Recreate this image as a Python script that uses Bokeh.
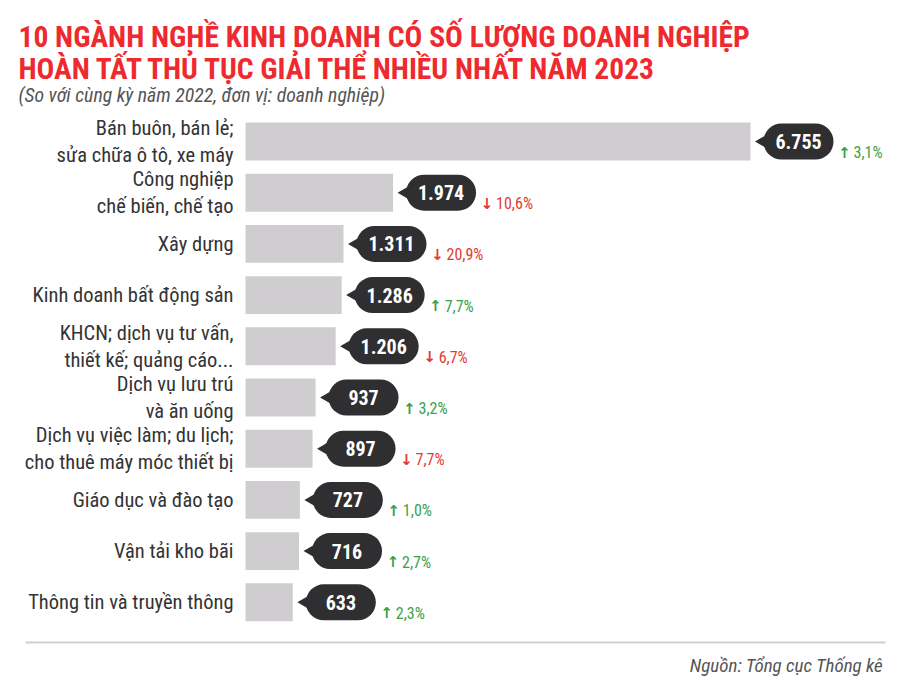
from bokeh.plotting import figure
from bokeh.models import ColumnDataSource, Range1d, Label, BoxAnnotation
from bokeh.core.properties import value
from bokeh.embed import file_html
from bokeh.resources import INLINE
import math

# data
categories = [
    "Bán buôn, bán lẻ;\nsửa chữa ô tô, xe máy",
    "Công nghiệp\nchế biến, chế tạo",
    "Xây dựng",
    "Kinh doanh bất động sản",
    "KHCN; dịch vụ tư vấn,\nthiết kế; quảng cáo...",
    "Dịch vụ lưu trú\nvà ăn uống",
    "Dịch vụ việc làm; du lịch;\ncho thuê máy móc thiết bị",
    "Giáo dục và đào tạo",
    "Vận tải kho bãi",
    "Thông tin và truyền thông",
]
counts = [6755, 1974, 1311, 1286, 1206, 937, 897, 727, 716, 633]
changes = [3.1, -10.6, -20.9, 7.7, -6.7, 3.2, -7.7, 1.0, 2.7, 2.3]

FONT = "Roboto Condensed"
W, H = 900, 678
BAR_LEFT = 245          # px where value 0 sits
PX_PER_UNIT = 505 / 6755
ROW = 51.2
FIRST_ROW = 141

def dx(px):
    return px / PX_PER_UNIT

ypos = list(range(len(categories)))
count_lbl = [f"{c:,}".replace(",", ".") for c in counts]
arrow = ["↑" if c >= 0 else "↓" for c in changes]
chg_lbl = [f"{abs(c):.1f}".replace(".", ",") + "%" for c in changes]
chg_col = ["#3aa14a" if c >= 0 else "#e53a2f" for c in changes]

src = ColumnDataSource(dict(
    y=ypos, cat=categories, count=counts, lbl=count_lbl,
    arrow=arrow, chg=chg_lbl, col=chg_col,
    tip=[c + dx(12) for c in counts],
    pill=[c + dx(48) for c in counts],
    arr=[c + dx(94) for c in counts],
    pct=[c + dx(103) for c in counts],
))

p = figure(width=W, height=H, output_backend="svg", toolbar_location=None,
           x_range=Range1d(-dx(BAR_LEFT), dx(W - BAR_LEFT)),
           y_range=Range1d((H - FIRST_ROW) / ROW, -FIRST_ROW / ROW),
           min_border=0, outline_line_color=None)
p.axis.visible = False
p.grid.visible = False
p.background_fill_color = "white"

p.hbar(y="y", left=0, right="count", height=0.74, source=src,
       fill_color="#d0cdd1", line_color=None)

p.scatter(x="tip", y="y", source=src, marker="triangle", size=13,
          angle=math.pi / 2, fill_color="#2f2e30", line_color=None)
p.rect(x="pill", y="y", width=70, height=36, width_units="screen",
       height_units="screen", source=src, fill_color="#2f2e30",
       line_color=None, border_radius=18)
p.text(x="pill", y="y", text="lbl", source=src, text_color="white",
       text_font=value(FONT), text_font_style="bold", text_font_size="20px",
       text_align="center", text_baseline="middle")

p.text(x="arr", y="y", text="arrow", source=src, text_color="col",
       text_font=value("DejaVu Sans"), text_font_style="bold",
       text_font_size="15px", y_offset=11,
       text_align="center", text_baseline="middle")
p.text(x="pct", y="y", text="chg", source=src, text_color="col",
       text_font=value(FONT), text_font_size="16px", y_offset=11,
       text_align="left", text_baseline="middle")

p.text(x=0, y="y", text="cat", source=src, x_offset=-12, text_color="#333333",
       text_font=value(FONT), text_font_size="20.5px", text_line_height=1.12,
       text_align="right", text_baseline="middle")

title_lines = ["10 NGÀNH NGHỀ KINH DOANH CÓ SỐ LƯỢNG DOANH NGHIỆP",
               "HOÀN TẤT THỦ TỤC GIẢI THỂ NHIỀU NHẤT NĂM 2023"]
for i, t in enumerate(title_lines):
    p.add_layout(Label(x=18, y=H - 36 - 32 * i, x_units="screen", y_units="screen",
                       text=t, text_font=FONT, text_font_style="bold",
                       text_font_size="29.5px", text_color="#ee2a2f",
                       text_baseline="alphabetic"))
p.add_layout(Label(x=18, y=H - 95, x_units="screen", y_units="screen",
                   text="(So với cùng kỳ năm 2022, đơn vị: doanh nghiệp)",
                   text_font=FONT, text_font_style="italic", text_font_size="19.8px",
                   text_color="#555555", text_baseline="alphabetic"))
p.add_layout(Label(x=883, y=H - 665, x_units="screen", y_units="screen",
                   text="Nguồn: Tổng cục Thống kê", text_align="right",
                   text_font=FONT, text_font_style="italic", text_font_size="19px",
                   text_color="#555555", text_baseline="alphabetic"))
p.add_layout(BoxAnnotation(left=25, right=885, top=H - 641, bottom=H - 643,
                           left_units="screen", right_units="screen",
                           top_units="screen", bottom_units="screen",
                           fill_color="#cfcfcf", fill_alpha=1, line_color=None))

open("out.html", "w").write(file_html(p, INLINE))
